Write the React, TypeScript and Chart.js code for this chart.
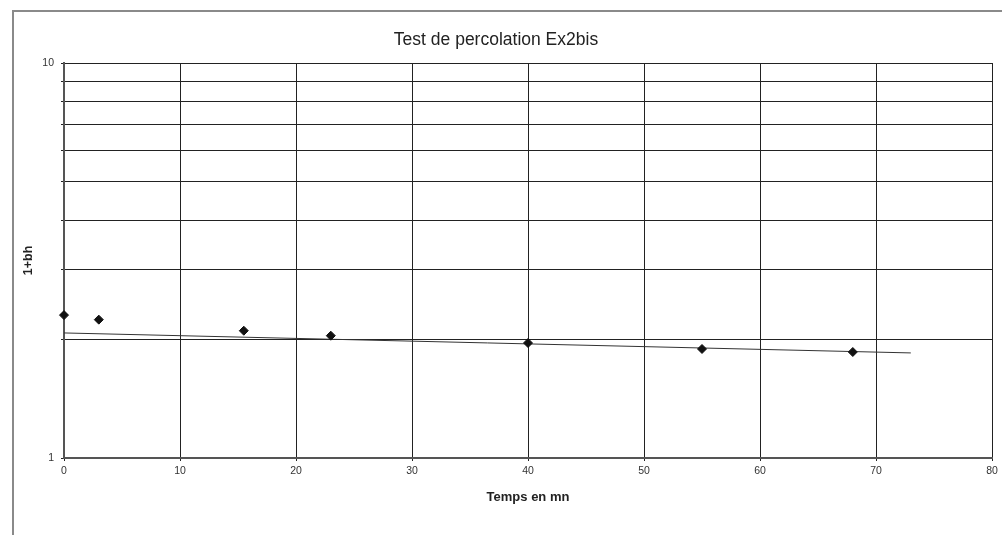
import React, { useEffect, useRef } from "react";
import { Chart, registerables } from "chart.js";

Chart.register(...registerables);

const TITLE = "Test de percolation Ex2bis";
const X_TITLE = "Temps en mn";
const Y_TITLE = "1+bh";

const times = [0, 3, 15.5, 23, 40, 55, 68];
const values = [2.3, 2.24, 2.1, 2.04, 1.955, 1.888, 1.855];

const trendX = [0, 73];
const trendY = [2.073, 1.845];

const yTicks = [1, 2, 3, 4, 5, 6, 7, 8, 9, 10];
const yLabelled = [1, 10];

const FONT = "'Liberation Sans', Arial, sans-serif";

export default function App() {
  const ref = useRef<HTMLCanvasElement | null>(null);

  useEffect(() => {
    if (!ref.current) return;
    const chart = new Chart(ref.current, {
      type: "scatter",
      data: {
        datasets: [
          {
            label: "mesures",
            data: times.map((t, i) => ({ x: t, y: values[i] })),
            pointStyle: "rectRot",
            pointRadius: 4.5,
            pointBackgroundColor: "#111",
            pointBorderColor: "#111",
            showLine: false,
            clip: false,
          },
          {
            label: "tendance",
            data: trendX.map((t, i) => ({ x: t, y: trendY[i] })),
            showLine: true,
            borderColor: "#333",
            borderWidth: 1,
            pointRadius: 0,
          },
        ],
      },
      options: {
        animation: false,
        responsive: false,
        layout: { padding: { left: 0, right: 10, top: 0, bottom: 0 } },
        plugins: {
          legend: { display: false },
          tooltip: { enabled: false },
          title: {
            display: true,
            text: TITLE,
            color: "#222",
            font: { family: FONT, size: 17.5, weight: "normal", lineHeight: 1.2 },
            padding: { top: 29.5, bottom: 12.5 },
          },
        },
        scales: {
          x: {
            type: "linear",
            min: 0,
            max: 80,
            ticks: {
              stepSize: 10,
              color: "#333",
              font: { family: FONT, size: 10.5 },
              padding: 4,
              maxRotation: 0,
            },
            grid: { color: "#222", lineWidth: 1, tickLength: 3 },
            border: { color: "#555", width: 2 },
            title: {
              display: true,
              text: X_TITLE,
              color: "#222",
              font: { family: FONT, size: 13, weight: "bold" },
              padding: { top: 0, bottom: 30 },
            },
            afterFit: (s: any) => {
              s.height = 77;
            },
          },
          y: {
            type: "logarithmic",
            min: 1,
            max: 10,
            afterBuildTicks: (s: any) => {
              s.ticks = yTicks.map((v) => ({ value: v }));
            },
            ticks: {
              color: "#333",
              font: { family: FONT, size: 10.5 },
              padding: 7,
              autoSkip: false,
              callback: (v: any) => (yLabelled.includes(Number(v)) ? String(v) : ""),
            },
            grid: { color: "#222", lineWidth: 1, tickLength: 3 },
            border: { color: "#555", width: 2 },
            title: {
              display: true,
              text: Y_TITLE,
              color: "#222",
              font: { family: FONT, size: 12.5, weight: "bold" },
              padding: { top: 21, bottom: 0 },
            },
            afterFit: (s: any) => {
              s.width = 64;
            },
          },
        },
      },
    });
    return () => chart.destroy();
  }, []);

  return (
    <div style={{ position: "fixed", left: 0, top: 0, width: 1002, height: 535, background: "#fff" }}>
      <div
        style={{
          position: "absolute",
          left: 12,
          top: 10,
          right: 0,
          bottom: 0,
          borderLeft: "2px solid #8a8a8a",
          borderTop: "2px solid #8a8a8a",
        }}
      />
      <canvas ref={ref} width={1002} height={535} style={{ position: "absolute", left: 0, top: 0 }} />
    </div>
  );
}
